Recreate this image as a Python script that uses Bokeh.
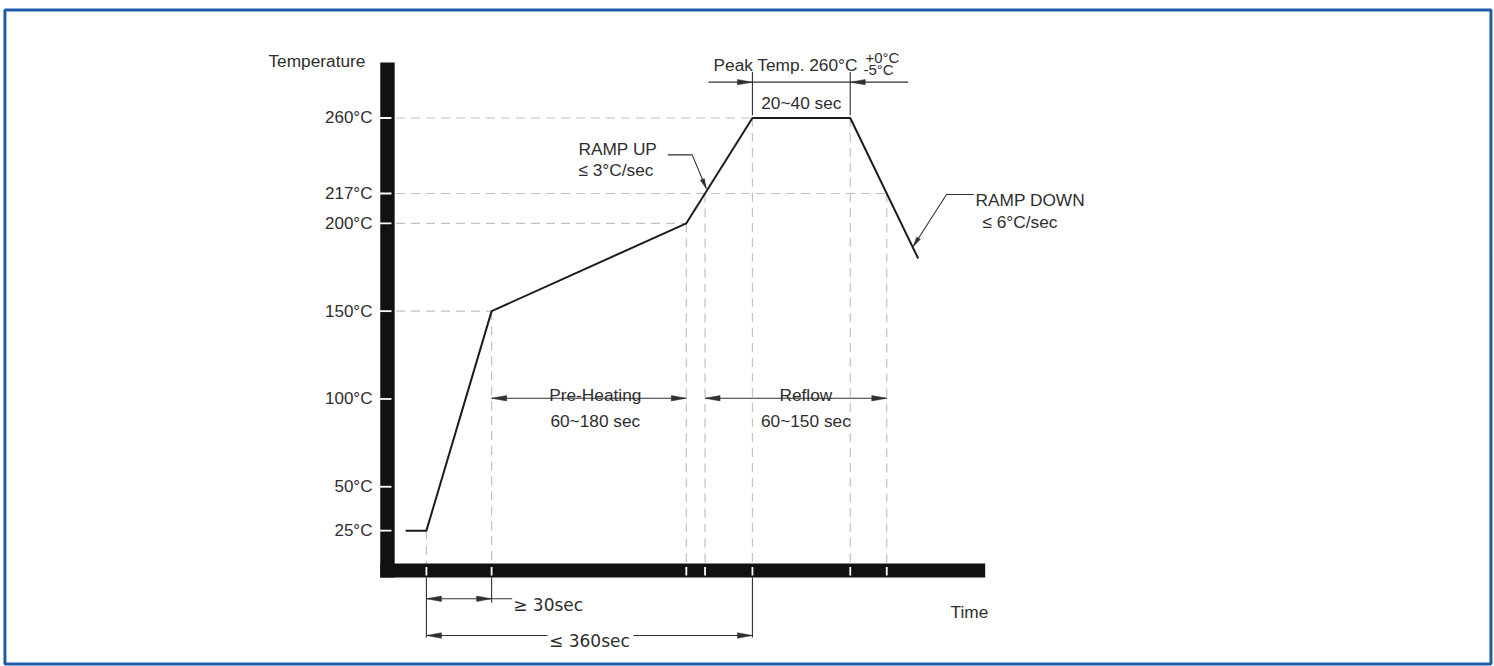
import numpy as np
from bokeh.plotting import figure
from bokeh.models import Range1d
from bokeh.core.properties import value
from bokeh.embed import file_html
from bokeh.resources import INLINE

# ---------------- data (schematic reflow profile) ----------------
profile_time = [20, 43, 115, 330, 403, 511, 586]        # s (schematic)
profile_temp = [25, 25, 150, 200, 260, 260, 180]        # °C
tick_temps = [260, 217, 200, 150, 100, 50, 25]
tick_labels = ["260°C", "217°C", "200°C", "150°C", "100°C", "50°C", "25°C"]
guide_temps = [260, 217, 200, 150]
liquidus_temp = 217
phase_names = ["Pre-Heating", "Reflow"]
phase_times = ["60~180 sec", "60~150 sec"]
peak_label = "Peak Temp. 260°C"
peak_tol = ["+0°C", "-5°C"]
peak_time = "20~40 sec"
ramp_up_text = ["RAMP UP", "≤ 3°C/sec"]
ramp_down_text = ["RAMP DOWN", "≤ 6°C/sec"]
bottom_texts = ["≥ 30sec", "≤ 360sec"]
axis_titles = ["Temperature", "Time"]

t_start, t_ramp, t_pre0, t_pre1, t_pk0, t_pk1, t_end = profile_time
t_liq_up = float(np.interp(liquidus_temp, [200, 260], [t_pre1, t_pk0]))
t_liq_dn = float(np.interp(liquidus_temp, [180, 260], [t_end, t_pk1]))
tick_times = [t_ramp, t_pre0, t_pre1, t_liq_up, t_pk0, t_pk1, t_liq_dn]

# ---------------- figure ----------------
FIG_W, FIG_H = 1494, 666
X0, X1 = -427.3, 1222.4
Y0, Y1 = -52.36, 326.9
SX = FIG_W / (X1 - X0)
SY = FIG_H / (Y1 - Y0)

p = figure(width=FIG_W, height=FIG_H, x_range=Range1d(X0, X1), y_range=Range1d(Y0, Y1),
           output_backend="svg", toolbar_location=None,
           x_axis_location=None, y_axis_location=None, min_border=0,
           outline_line_color=None, background_fill_color="white",
           border_fill_color="white")
p.grid.visible = False

TXT = "#2e2e2e"
DIM = "#303030"
GUIDE = "#c2c2c2"

# frame border
p.quad(left=[-422.4], right=[1218.5], bottom=[-51.0], top=[321.5],
       fill_color=None, line_color="#1f5ca8", line_width=3)

# axis geometry
bar_hw = 7.2 / SX
T_axis = 2.3
bar_ht = 7.0 / SY
y_top = 291.6
x_right = 660.0

# dashed guides (horizontal)
guide_end = {260: t_pk0, 217: t_liq_dn, 200: t_pre1, 150: t_pre0}
p.segment(x0=[bar_hw + 1.5] * len(guide_temps), y0=guide_temps,
          x1=[guide_end[g] for g in guide_temps], y1=guide_temps,
          line_color=GUIDE, line_width=1.2, line_dash="9 6")
# dashed guides (vertical)
v_temps = [25, 150, 200, liquidus_temp, 260, 260, liquidus_temp]
p.segment(x0=tick_times, y0=v_temps, x1=tick_times, y1=[T_axis + bar_ht] * len(tick_times),
          line_color=GUIDE, line_width=1.2, line_dash="9 6")

# axis bars
p.quad(left=[-bar_hw, -bar_hw], right=[bar_hw, x_right],
       bottom=[T_axis - bar_ht, T_axis - bar_ht], top=[y_top, T_axis + bar_ht],
       fill_color="#111111", line_color=None)
# white notches
p.segment(x0=[-bar_hw - 0.5] * len(tick_temps), y0=tick_temps,
          x1=[bar_hw - 3.2 / SX] * len(tick_temps), y1=tick_temps,
          line_color="white", line_width=1.8)
p.segment(x0=tick_times, y0=[T_axis + bar_ht - 3.5 / SY] * len(tick_times),
          x1=tick_times, y1=[T_axis - bar_ht + 2.0 / SY] * len(tick_times),
          line_color="white", line_width=1.8)

# profile
p.line(profile_time, profile_temp, line_color="#1c1c1c", line_width=2)

# ---------------- dimension lines ----------------
heads_x, heads_y = [], []


def head(tt, TT, dx, dy, L=15.0, W=2.7):
    n = (dx * dx + dy * dy) ** 0.5
    ux, uy = dx / n, dy / n
    bx, by = -ux * L, -uy * L
    qx, qy = -uy, ux
    pts = [(0.0, 0.0), (bx + W * qx, by + W * qy), (bx - W * qx, by - W * qy)]
    heads_x.append([tt + ox / SX for ox, oy in pts])
    heads_y.append([TT - oy / SY for ox, oy in pts])


segs = []  # (x0, y0, x1, y1)
# peak
T_pk_dim = 280.4
segs += [(t_pk0, 261.5, t_pk0, 286.2), (t_pk1, 261.5, t_pk1, 286.2),
         (t_pk0 - 48.5, T_pk_dim, t_pk1 + 64.0, T_pk_dim)]
head(t_pk0, T_pk_dim, 1, 0)
head(t_pk1, T_pk_dim, -1, 0)
# pre-heating / reflow
T_ph = 100.4
segs += [(t_pre0, T_ph, t_pre1, T_ph), (t_liq_up, T_ph, t_liq_dn, T_ph)]
head(t_pre0, T_ph, -1, 0); head(t_pre1, T_ph, 1, 0)
head(t_liq_up, T_ph, -1, 0); head(t_liq_dn, T_ph, 1, 0)
# bottom dimensions
T_b1, T_b2 = -13.8, -34.7
segs += [(t_ramp, T_axis - bar_ht, t_ramp, -35.9), (t_pk0, T_axis - bar_ht, t_pk0, -35.9),
         (t_pre0, T_axis - bar_ht, t_pre0, -15.9),
         (t_ramp, T_b1, 137.7, T_b1),
         (t_ramp, T_b2, 176.7, T_b2), (271.6, T_b2, t_pk0, T_b2)]
head(t_ramp, T_b1, -1, 0); head(t_pre0, T_b1, 1, 0)
head(t_ramp, T_b2, -1, 0); head(t_pk0, T_b2, 1, 0)
p.segment(x0=[s[0] for s in segs], y0=[s[1] for s in segs],
          x1=[s[2] for s in segs], y1=[s[3] for s in segs],
          line_color=DIM, line_width=1.1)

# leaders
up_x = [309.5, 336.5, 352.0]
up_y = [239.0, 239.0, 219.8]
dn_x = [647.4, 617.3, 580.5]
dn_y = [216.4, 216.4, 186.8]
p.line(up_x, up_y, line_color=DIM, line_width=1.1)
p.line(dn_x, dn_y, line_color=DIM, line_width=1.1)
head(up_x[2], up_y[2], (up_x[2] - up_x[1]) * SX, -(up_y[2] - up_y[1]) * SY, L=10, W=2.2)
head(dn_x[2], dn_y[2], (dn_x[2] - dn_x[1]) * SX, -(dn_y[2] - dn_y[1]) * SY, L=10, W=2.2)

p.patches(heads_x, heads_y, fill_color=DIM, line_color=DIM, line_width=0.5)

# ---------------- texts ----------------
F = value("Liberation Sans")
p.text(x=[-16.6] * len(tick_temps), y=tick_temps, text=tick_labels,
       text_align="right", text_baseline="middle", text_font=F,
       text_font_size="17px", text_color=TXT)
p.text(x=[-131.4, 360.0, 210.9, 210.9, 649.3, 657.0, 621.7],
       y=[292.7, 290.2, 242.3, 230.5, 213.3, 200.7, -21.4],
       text=[axis_titles[0], peak_label, ramp_up_text[0], ramp_up_text[1],
             ramp_down_text[0], ramp_down_text[1], axis_titles[1]],
       text_align="left", text_baseline="alphabetic", text_font=F,
       text_font_size="17.3px", text_color=TXT)
p.text(x=[527.8, 525.6], y=[294.6, 287.4], text=peak_tol,
       text_align="left", text_baseline="alphabetic", text_font=F,
       text_font_size="15px", text_color=TXT)
p.text(x=[(t_pk0 + t_pk1) / 2, 229.5, 229.5, 462.0, 462.0],
       y=[268.7, 102.5, 87.3, 102.5, 87.3],
       text=[peak_time, phase_names[0], phase_times[0], phase_names[1], phase_times[1]],
       text_align="center", text_baseline="alphabetic", text_font=F,
       text_font_size="17.3px", text_color=TXT)
FD = value("DejaVu Sans")
p.text(x=[138.8], y=[-17.6], text=[bottom_texts[0]], text_align="left",
       text_baseline="alphabetic", text_font=FD, text_font_size="17px", text_color=TXT)
p.text(x=[(t_ramp + t_pk0) / 2], y=[-37.9], text=[bottom_texts[1]], text_align="center",
       text_baseline="alphabetic", text_font=FD, text_font_size="17px", text_color=TXT)

open("out.html", "w").write(file_html(p, INLINE))
